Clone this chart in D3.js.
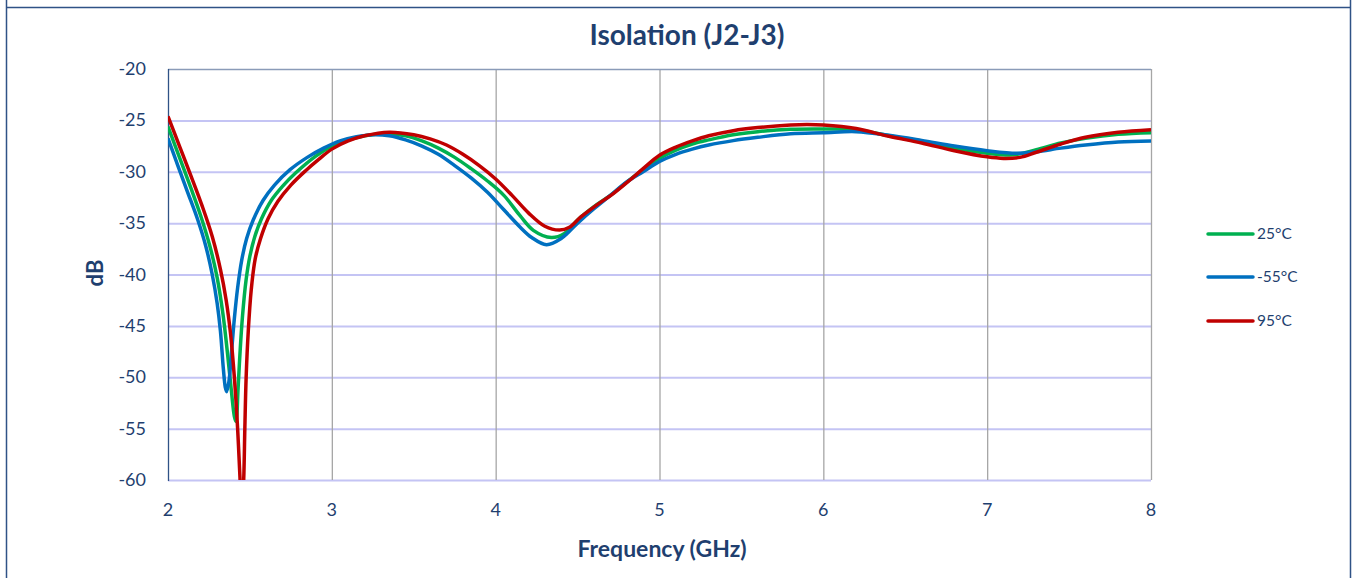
<!DOCTYPE html>
<html>
<head>
<meta charset="UTF-8">
<script src="https://d3js.org/d3.v7.min.js"></script>
<style>
  body { margin: 0; background: #fff; }
  text { font-family: Lato, "Open Sans", sans-serif; fill: #1f3f6f; }
</style>
</head>
<body>
<svg width="1356" height="578"></svg>
<script>
// data
var seriesNames = ["25°C", "-55°C", "95°C"];
var seriesColors = ["#00b050", "#0070c0", "#c00000"];

var freq25 = [2.0, 2.07, 2.14, 2.2, 2.255, 2.3, 2.335, 2.362, 2.388, 2.405, 2.415, 2.428, 2.44, 2.455, 2.476, 2.5, 2.53, 2.57, 2.63, 2.7, 2.78, 2.9, 3.0, 3.1, 3.2, 3.33, 3.45, 3.55, 3.65, 3.75, 3.85, 3.95, 4.05, 4.15, 4.23, 4.34, 4.42, 4.5, 4.6, 4.7, 4.8, 4.9, 5.0, 5.1, 5.2, 5.3, 5.45, 5.6, 5.8, 6.0, 6.2, 6.4, 6.6, 6.8, 7.0, 7.16, 7.3, 7.45, 7.6, 7.8, 8.0];
var db25 = [-25.6, -28.6, -31.6, -34.3, -37.2, -40.3, -43.8, -47.5, -51.5, -53.8, -54.3, -51, -47.5, -44, -40.6, -38.2, -36.3, -34.6, -32.8, -31.4, -30.1, -28.5, -27.5, -26.9, -26.5, -26.3, -26.5, -27.0, -27.7, -28.6, -29.7, -30.9, -32.3, -34.3, -35.7, -36.4, -36.0, -34.7, -33.4, -32.3, -31.0, -29.8, -28.7, -27.9, -27.3, -26.9, -26.4, -26.1, -25.87, -25.84, -25.9, -26.5, -27.1, -27.7, -28.2, -28.35, -27.85, -27.2, -26.75, -26.36, -26.2];

var freq55 = [2.0, 2.06, 2.12, 2.18, 2.23, 2.27, 2.3, 2.32, 2.338, 2.35, 2.358, 2.372, 2.388, 2.405, 2.425, 2.45, 2.48, 2.52, 2.58, 2.65, 2.745, 2.85, 2.95, 3.05, 3.15, 3.25, 3.35, 3.45, 3.55, 3.65, 3.75, 3.85, 3.95, 4.05, 4.15, 4.22, 4.31, 4.4, 4.5, 4.6, 4.7, 4.8, 4.9, 5.0, 5.1, 5.2, 5.3, 5.45, 5.6, 5.8, 6.0, 6.2, 6.4, 6.6, 6.8, 7.0, 7.18, 7.3, 7.45, 7.6, 7.8, 8.0];
var db55 = [-26.75, -29.4, -32.0, -34.6, -37.2, -40.0, -42.8, -45.5, -49.2, -51, -51.4, -50.4, -47.5, -44.3, -41.3, -38.6, -36.5, -34.7, -32.8, -31.3, -29.8, -28.6, -27.7, -27.0, -26.6, -26.4, -26.5, -26.9, -27.5, -28.3, -29.4, -30.6, -32.0, -33.7, -35.4, -36.4, -37.1, -36.5, -35.0, -33.6, -32.3, -31.0, -30.0, -29.0, -28.3, -27.8, -27.4, -26.97, -26.65, -26.3, -26.2, -26.1, -26.45, -26.95, -27.5, -27.95, -28.2, -28.05, -27.7, -27.4, -27.1, -27.0];

var freq95 = [2.0, 2.07, 2.14, 2.21, 2.27, 2.32, 2.355, 2.382, 2.405, 2.425, 2.44, 2.452, 2.462, 2.469, 2.477, 2.49, 2.508, 2.532, 2.565, 2.61, 2.67, 2.75, 2.84, 2.92, 3.0, 3.1, 3.2, 3.35, 3.5, 3.6, 3.7, 3.8, 3.9, 4.0, 4.1, 4.2, 4.3, 4.39, 4.45, 4.52, 4.62, 4.72, 4.82, 4.9, 5.0, 5.1, 5.2, 5.3, 5.45, 5.6, 5.8, 5.9, 6.0, 6.2, 6.4, 6.6, 6.8, 7.0, 7.1, 7.2, 7.3, 7.45, 7.6, 7.8, 8.0];
var db95 = [-24.6, -27.5, -30.4, -33.4, -36.3, -39.5, -42.5, -45.8, -50, -55, -60, -63, -60, -55, -50, -45.5, -41.5, -38.5, -36.5, -34.6, -32.9, -31.3, -29.9, -28.8, -27.8, -27.0, -26.5, -26.15, -26.4, -26.8, -27.4, -28.3, -29.4, -30.7, -32.3, -34.0, -35.3, -35.67, -35.4, -34.4, -33.2, -32.1, -30.8, -29.7, -28.4, -27.6, -27.0, -26.5, -26.0, -25.7, -25.45, -25.4, -25.45, -25.8, -26.55, -27.2, -27.95, -28.55, -28.7, -28.6, -28.1, -27.3, -26.65, -26.16, -25.9];

var xTicks = [2, 3, 4, 5, 6, 7, 8];
var yTicks = [-20, -25, -30, -35, -40, -45, -50, -55, -60];

var svg = d3.select("svg");

// outer frame
svg.append("line").attr("x1", 6.5).attr("x2", 6.5).attr("y1", 0).attr("y2", 578).attr("stroke", "#2f5286").attr("stroke-width", 1.5);
svg.append("line").attr("x1", 1350.5).attr("x2", 1350.5).attr("y1", 0).attr("y2", 578).attr("stroke", "#2f5286").attr("stroke-width", 1.5);
svg.append("line").attr("x1", 6).attr("x2", 1351).attr("y1", 7.5).attr("y2", 7.5).attr("stroke", "#2f5286").attr("stroke-width", 1.5);

const pLeft = 168, pRight = 1151, pTop = 69, pBottom = 480;
var x = d3.scaleLinear().domain([2, 8]).range([pLeft, pRight]);
var y = d3.scaleLinear().domain([-60, -20]).range([pBottom, pTop]);

svg.append("text").attr("x", 687).attr("y", 45).attr("text-anchor", "middle")
  .style("font-size", "28px").style("font-weight", "bold").text("Isolation (J2-J3)");

// grid
svg.append("g").selectAll("line").data(yTicks.filter(d => d > -60 && d < -20)).enter().append("line")
  .attr("x1", pLeft).attr("x2", pRight).attr("y1", d => y(d) + 0.5).attr("y2", d => y(d) + 0.5)
  .attr("stroke", "#c4c4f4").attr("stroke-width", 2);
svg.append("line").attr("x1", pLeft).attr("x2", pRight).attr("y1", pBottom + 0.5).attr("y2", pBottom + 0.5)
  .attr("stroke", "#c4c4f4").attr("stroke-width", 2);
svg.append("g").selectAll("line").data(xTicks.filter(d => d > 2)).enter().append("line")
  .attr("x1", d => x(d) + 0.5).attr("x2", d => x(d) + 0.5).attr("y1", pTop).attr("y2", pBottom)
  .attr("stroke", "#a6a6a6").attr("stroke-width", 1.3);
svg.append("line").attr("x1", pLeft).attr("x2", pRight).attr("y1", pTop + 0.5).attr("y2", pTop + 0.5)
  .attr("stroke", "#8a9bb8").attr("stroke-width", 1.3);
svg.append("line").attr("x1", pLeft + 0.5).attr("x2", pLeft + 0.5).attr("y1", pTop).attr("y2", pBottom + 1)
  .attr("stroke", "#2f5286").attr("stroke-width", 1.3);

// tick labels
svg.append("g").selectAll("text").data(yTicks).enter().append("text")
  .attr("x", 146).attr("y", d => y(d) + 6).attr("text-anchor", "end")
  .style("font-size", "18px").text(d => d);
svg.append("g").selectAll("text").data(xTicks).enter().append("text")
  .attr("x", d => x(d)).attr("y", 516).attr("text-anchor", "middle")
  .style("font-size", "18px").text(d => d);

svg.append("text").attr("x", 662).attr("y", 557).attr("text-anchor", "middle")
  .style("font-size", "23px").style("font-weight", "bold").text("Frequency (GHz)");
svg.append("text").attr("transform", "translate(103,273) rotate(-90)").attr("text-anchor", "middle")
  .style("font-size", "22px").style("font-weight", "bold").text("dB");

// series
svg.append("clipPath").attr("id", "plot").append("rect")
  .attr("x", pLeft).attr("y", pTop).attr("width", pRight - pLeft).attr("height", pBottom - pTop);

var series = [
  { f: freq25, v: db25 },
  { f: freq55, v: db55 },
  { f: freq95, v: db95 }
];
var line = d3.line().x(d => x(d[0])).y(d => y(d[1])).curve(d3.curveCatmullRom.alpha(0.5));
var plot = svg.append("g").attr("clip-path", "url(#plot)");
series.forEach(function(s, i) {
  var pts = s.f.map((f, j) => [f, s.v[j]]);
  plot.append("path").datum(pts).attr("d", line).attr("fill", "none")
    .attr("stroke", seriesColors[i]).attr("stroke-width", 3.5).attr("stroke-linejoin", "round");
});

// legend
var legendY = [234, 277, 321];
var lg = svg.append("g").selectAll("g").data(seriesNames).enter().append("g");
lg.append("line").attr("x1", 1208).attr("x2", 1253).attr("y1", (d, i) => legendY[i]).attr("y2", (d, i) => legendY[i])
  .attr("stroke", (d, i) => seriesColors[i]).attr("stroke-width", 3.5).attr("stroke-linecap", "round");
lg.append("text").attr("x", 1257).attr("y", (d, i) => legendY[i] + 5)
  .style("font-size", "15.5px").text(d => d);
</script>
</body>
</html>
